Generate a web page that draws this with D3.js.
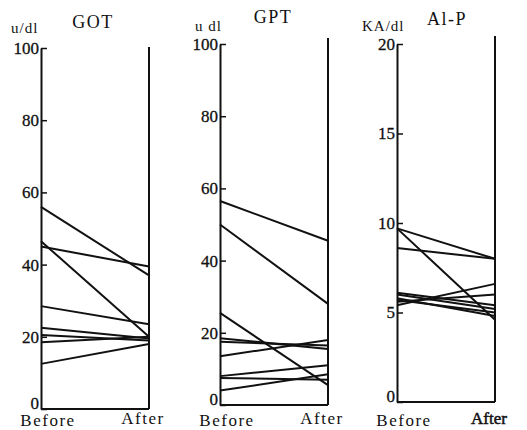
<!DOCTYPE html>
<html>
<head>
<meta charset="utf-8">
<script src="https://cdn.jsdelivr.net/npm/d3@7"></script>
<style>
  body { margin: 0; background: #fff; }
  svg { display: block; }
  svg text { font-family: "Liberation Serif", "Times New Roman", "DejaVu Serif", serif; fill: #111; }
</style>
</head>
<body>
<svg width="527" height="430"></svg>
<script>
// data
var categories = ["Before", "After"];

var gotBefore = [56, 46.5, 45, 28.5, 22.5, 20.5, 18.5, 12.5];
var gotAfter  = [37, 20, 39.5, 23.5, 19.5, 19, 20, 18];

var gptBefore = [56.5, 50, 25.5, 18.5, 17.5, 13.5, 8, 7.5, 4];
var gptAfter  = [45.5, 28, 5.5, 15.5, 16.5, 18, 11, 7, 8.5];

var alpBefore = [9.7, 9.7, 8.6, 5.4, 5.6, 6.1, 6.0, 5.8, 5.7];
var alpAfter  = [8.0, 4.6, 8.0, 6.6, 6.0, 5.4, 5.2, 4.8, 5.0];

var gotTicks = [0, 20, 40, 60, 80, 100];
var gptTicks = [0, 20, 40, 60, 80, 100];
var alpTicks = [0, 5, 10, 15, 20];

var titles = ["GOT", "GPT", "Al-P"];
var units = ["u/dl", "u dl", "KA/dl"];

var svg = d3.select("svg");
var serif = "'Liberation Serif', 'Times New Roman', 'DejaVu Serif', serif";

// layout of each panel (pixels)
var panels = [
    {before: gotBefore, after: gotAfter, ticks: gotTicks, max: 100,
     left: 41, right: 149, top: 48, bottom: 409, rightTop: 47,
     titleX: 93, titleY: 28, unitX: 11, unitY: 33},
    {before: gptBefore, after: gptAfter, ticks: gptTicks, max: 100,
     left: 220, right: 328, top: 44, bottom: 405, rightTop: 38,
     titleX: 273, titleY: 23, unitX: 195, unitY: 31},
    {before: alpBefore, after: alpAfter, ticks: alpTicks, max: 20,
     left: 397, right: 495, top: 44, bottom: 402, rightTop: 36,
     titleX: 447, titleY: 25, unitX: 362, unitY: 31}
];

panels.forEach(function(p, i) {
    var x = d3.scalePoint().domain(categories).range([p.left, p.right]);
    var y = d3.scaleLinear().domain([0, p.max]).range([p.bottom, p.top]);

    var g = svg.append("g").attr("class", "panel");

    // left axis with inward ticks
    var ax = g.append("g")
        .attr("transform", "translate(" + x("Before") + ",0)")
        .call(d3.axisLeft(y).tickValues(p.ticks).tickSizeInner(-6).tickSizeOuter(0).tickPadding(2));
    ax.attr("font-family", null);
    ax.select(".domain").attr("stroke", "#111").attr("stroke-width", 2);
    ax.selectAll(".tick line").attr("stroke", "#111").attr("stroke-width", 1.5);
    ax.selectAll(".tick text")
        .style("font-family", serif)
        .style("font-size", "17px")
        .attr("fill", "#111")
        .attr("stroke", "#111").attr("stroke-width", 0.3)
        .attr("dy", function(d) { return d == 0 ? "-0.05em" : "0.32em"; });

    // right vertical and bottom line
    g.append("line")
        .attr("x1", x("After")).attr("x2", x("After"))
        .attr("y1", p.rightTop).attr("y2", y(0))
        .attr("stroke", "#111").attr("stroke-width", 2);
    g.append("line")
        .attr("x1", x("Before")).attr("x2", x("After"))
        .attr("y1", y(0)).attr("y2", y(0))
        .attr("stroke", "#111").attr("stroke-width", 1.8);

    // subject lines
    var pairs = p.before.map(function(b, k) { return [b, p.after[k]]; });
    g.selectAll(".subj")
        .data(pairs)
        .enter().append("line")
        .attr("class", "subj")
        .attr("x1", x("Before"))
        .attr("x2", x("After"))
        .attr("y1", function(d) { return y(d[0]); })
        .attr("y2", function(d) { return y(d[1]); })
        .attr("stroke", "#111")
        .attr("stroke-width", 2);

    // category labels
    g.append("text")
        .attr("x", x("Before") + 7).attr("y", 426)
        .attr("text-anchor", "middle")
        .style("font-family", serif)
        .style("font-size", "17px").style("letter-spacing", "1.5px")
        .text(categories[0]);
    g.append("text")
        .attr("x", x("After") - 6).attr("y", 424)
        .attr("text-anchor", "middle")
        .style("font-family", serif)
        .style("font-size", "17px").style("letter-spacing", i == 2 ? "0px" : "1.5px")
        .attr("stroke", i == 2 ? "#111" : "none").attr("stroke-width", 0.5)
        .text(categories[1]);

    // title and unit
    g.append("text")
        .attr("x", p.titleX).attr("y", p.titleY)
        .attr("text-anchor", "middle")
        .style("font-family", serif)
        .style("font-size", "18px").style("letter-spacing", "1.5px")
        .text(titles[i]);
    g.append("text")
        .attr("x", p.unitX).attr("y", p.unitY)
        .style("font-family", serif)
        .style("font-size", "15px").style("letter-spacing", "1px")
        .text(units[i]);
});
</script>
</body>
</html>
